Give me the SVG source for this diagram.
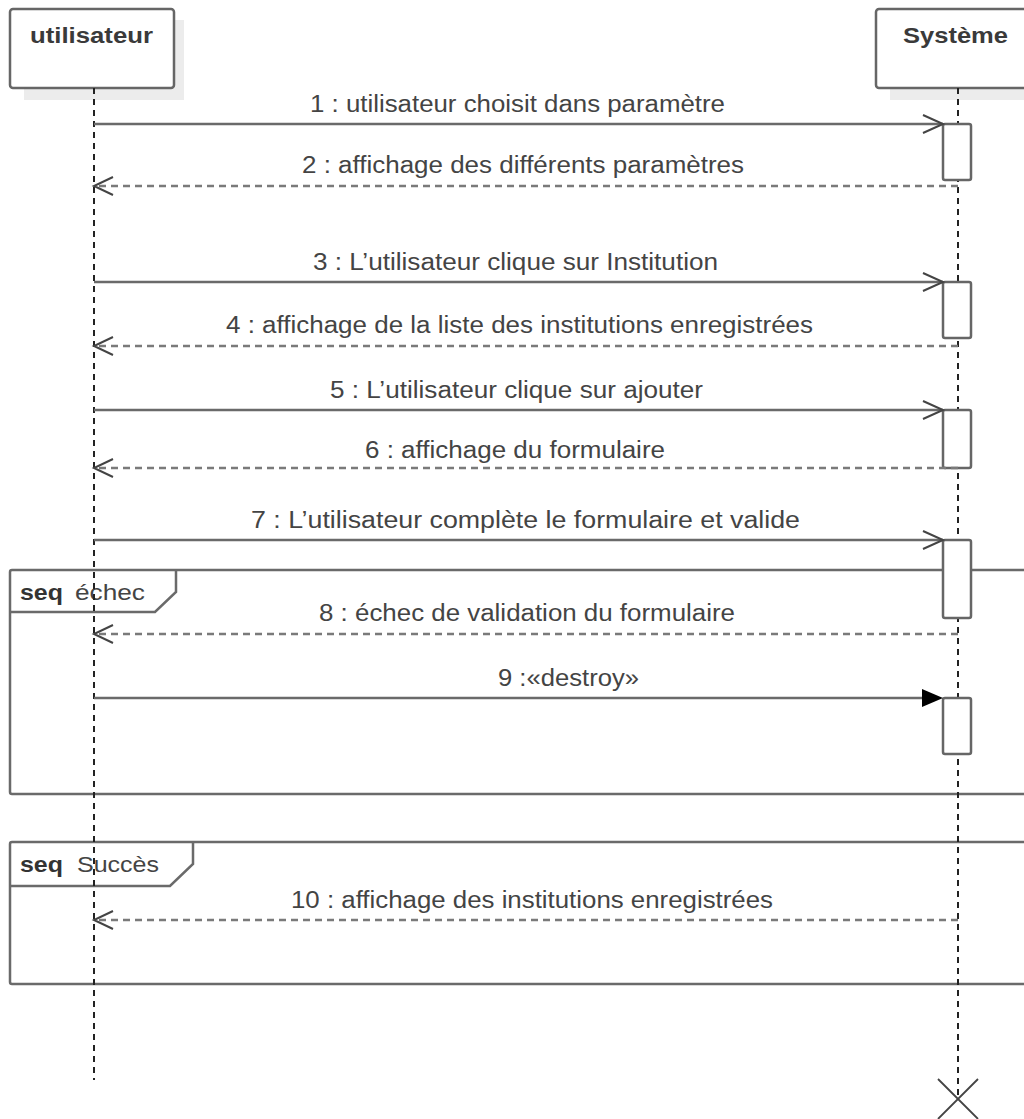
<svg xmlns="http://www.w3.org/2000/svg" width="1024" height="1119" viewBox="0 0 1024 1119">
<defs>
<style>
.hdr{font-family:"Liberation Sans",Arial,sans-serif;font-weight:bold;font-size:22px;fill:#3a3a3a}
.lbl{font-family:"Liberation Sans",Arial,sans-serif;font-size:23px;fill:#444}
.seqb{font-family:"Liberation Sans",Arial,sans-serif;font-weight:bold;font-size:22px;fill:#333}
.seqn{font-family:"Liberation Sans",Arial,sans-serif;font-size:22px;fill:#444}
.box{fill:#fff;stroke:#666;stroke-width:2.5}
.shadow{fill:#ececec}
.life{stroke:#222;stroke-width:2;stroke-dasharray:6 5;fill:none}
.msg{stroke:#6a6a6a;stroke-width:2.5;fill:none}
.ret{stroke:#7a7a7a;stroke-width:2.5;stroke-dasharray:7 5;fill:none}
.head{stroke:#444;stroke-width:2;fill:none}
.act{fill:#fff;stroke:#666;stroke-width:2.5}
.frame{fill:none;stroke:#6a6a6a;stroke-width:2.5}
</style>
</defs>
<rect width="1024" height="1119" fill="#fff"/>

<g id="frames">
<g id="frame-echec">
<rect class="frame" x="10" y="570" width="1030" height="224" rx="2"/>
<path class="frame" d="M10 612 H155 L176 592 V570"/>
<text x="20" y="600" class="seqb" textLength="43" lengthAdjust="spacingAndGlyphs">seq</text>
<text x="75" y="600" class="seqn" textLength="70" lengthAdjust="spacingAndGlyphs">échec</text>
</g>
<g id="frame-succes">
<rect class="frame" x="10" y="842" width="1030" height="142" rx="2"/>
<path class="frame" d="M10 886 H170 L193 864 V842"/>
<text x="20" y="872" class="seqb" textLength="43" lengthAdjust="spacingAndGlyphs">seq</text>
<text x="77" y="872" class="seqn" textLength="82" lengthAdjust="spacingAndGlyphs">Succès</text>
</g>
</g>

<g id="utilisateur">
<rect class="shadow" x="24" y="88" width="160" height="12"/>
<rect class="shadow" x="174" y="20" width="10" height="80"/>
<rect class="box" x="10" y="9" width="164" height="79" rx="3"/>
<text x="30" y="43" class="hdr" textLength="123" lengthAdjust="spacingAndGlyphs">utilisateur</text>
<line class="life" x1="94" y1="88" x2="94" y2="1080"/>
</g>

<g id="systeme">
<rect class="shadow" x="890" y="88" width="140" height="12"/>
<rect class="box" x="876" y="9" width="160" height="79" rx="3"/>
<text x="903" y="43" class="hdr" textLength="105" lengthAdjust="spacingAndGlyphs">Système</text>
<line class="life" x1="958" y1="88" x2="958" y2="1099"/>
<path d="M938 1079 L978 1119 M978 1079 L938 1119" stroke="#444" stroke-width="1.8" fill="none"/>
</g>

<g id="activations">
<rect class="act" x="943" y="124" width="28" height="56" rx="2"/>
<rect class="act" x="943" y="282" width="28" height="56" rx="2"/>
<rect class="act" x="943" y="410" width="28" height="58" rx="2"/>
<rect class="act" x="943" y="540" width="28" height="78" rx="2"/>
<rect class="act" x="943" y="698" width="28" height="56" rx="2"/>
</g>

<g id="connectors">
<g id="m1"><line class="msg" x1="94" y1="124" x2="943" y2="124"/><path class="head" d="M923 115 L943 124 L923 133"/></g>
<g id="m2"><line class="ret" x1="958" y1="186" x2="94" y2="186"/><path class="head" d="M113 177 L94 186 L113 195"/></g>
<g id="m3"><line class="msg" x1="94" y1="282" x2="943" y2="282"/><path class="head" d="M923 273 L943 282 L923 291"/></g>
<g id="m4"><line class="ret" x1="958" y1="346" x2="94" y2="346"/><path class="head" d="M113 337 L94 346 L113 355"/></g>
<g id="m5"><line class="msg" x1="94" y1="410" x2="943" y2="410"/><path class="head" d="M923 401 L943 410 L923 419"/></g>
<g id="m6"><line class="ret" x1="958" y1="468" x2="94" y2="468"/><path class="head" d="M113 459 L94 468 L113 477"/></g>
<g id="m7"><line class="msg" x1="94" y1="540" x2="943" y2="540"/><path class="head" d="M923 531 L943 540 L923 549"/></g>
<g id="m8"><line class="ret" x1="958" y1="634" x2="94" y2="634"/><path class="head" d="M113 625 L94 634 L113 643"/></g>
<g id="m9"><line class="msg" x1="94" y1="698" x2="930" y2="698"/><path d="M922 689 L943 698 L922 707 Z" fill="#000"/></g>
<g id="m10"><line class="ret" x1="958" y1="920" x2="94" y2="920"/><path class="head" d="M113 911 L94 920 L113 929"/></g>
</g>

<g id="labels">
<text class="lbl" x="310" y="112" textLength="415" lengthAdjust="spacingAndGlyphs">1 : utilisateur choisit dans paramètre</text>
<text class="lbl" x="302" y="173" textLength="442" lengthAdjust="spacingAndGlyphs">2 : affichage des différents paramètres</text>
<text class="lbl" x="313" y="270" textLength="405" lengthAdjust="spacingAndGlyphs">3 : L’utilisateur clique sur Institution</text>
<text class="lbl" x="226" y="333" textLength="587" lengthAdjust="spacingAndGlyphs">4 : affichage de la liste des institutions enregistrées</text>
<text class="lbl" x="330" y="398" textLength="373" lengthAdjust="spacingAndGlyphs">5 : L’utilisateur clique sur ajouter</text>
<text class="lbl" x="365" y="458" textLength="300" lengthAdjust="spacingAndGlyphs">6 : affichage du formulaire</text>
<text class="lbl" x="251" y="528" textLength="549" lengthAdjust="spacingAndGlyphs">7 : L’utilisateur complète le formulaire et valide</text>
<text class="lbl" x="319" y="621" textLength="416" lengthAdjust="spacingAndGlyphs">8 : échec de validation du formulaire</text>
<text class="lbl" x="498" y="686" textLength="141" lengthAdjust="spacingAndGlyphs">9 :«destroy»</text>
<text class="lbl" x="291" y="908" textLength="482" lengthAdjust="spacingAndGlyphs">10 : affichage des institutions enregistrées</text>
</g>
</svg>
